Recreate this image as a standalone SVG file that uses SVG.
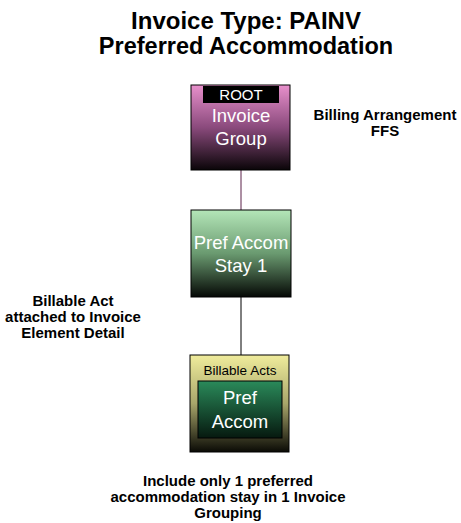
<svg xmlns="http://www.w3.org/2000/svg" width="461" height="523" viewBox="0 0 461 523">
<style>
.t{font-family:"Liberation Sans",Arial,sans-serif;font-weight:bold;fill:#000;text-anchor:middle}
.s{font-size:15px}
.n{font-family:"Liberation Sans",Arial,sans-serif;fill:#fff;text-anchor:middle}
.box{stroke:#000;stroke-width:1}
</style>
<defs>
<linearGradient id="gPink" x1="0" y1="0" x2="0" y2="1">
<stop offset="0" stop-color="#e890cc"/><stop offset="0.5" stop-color="#8a4a7c"/><stop offset="1" stop-color="#0a0508"/>
</linearGradient>
<linearGradient id="gGreen" x1="0" y1="0" x2="0" y2="1">
<stop offset="0" stop-color="#b4e6b8"/><stop offset="0.5" stop-color="#6a9a70"/><stop offset="1" stop-color="#050805"/>
</linearGradient>
<linearGradient id="gYellow" x1="0" y1="0" x2="0" y2="1">
<stop offset="0" stop-color="#f0ec9c"/><stop offset="0.5" stop-color="#a8a66a"/><stop offset="1" stop-color="#0a0a05"/>
</linearGradient>
<linearGradient id="gInner" x1="0" y1="0" x2="0" y2="1">
<stop offset="0" stop-color="#2a8a5a"/><stop offset="1" stop-color="#06190f"/>
</linearGradient>
</defs>
<text class="t" x="246" y="29" font-size="24">Invoice Type: PAINV</text>
<text class="t" x="246" y="54" font-size="23.5">Preferred Accommodation</text>
<g id="connectors">
<line x1="241" y1="170" x2="241" y2="210" stroke="#5a2048" stroke-width="1"/>
<line x1="241" y1="297" x2="241" y2="355" stroke="#000" stroke-width="1"/>
</g>
<g id="root">
<rect class="box" x="191" y="85" width="99" height="85" fill="url(#gPink)"/>
<rect x="203" y="86" width="76" height="17" fill="#000"/>
<text class="n" x="241" y="100" font-size="15">ROOT</text>
<text class="n" x="241" y="122" font-size="18.5">Invoice</text>
<text class="n" x="241" y="145" font-size="18.5">Group</text>
</g>
<g id="stay">
<rect class="box" x="191" y="210" width="100" height="87" fill="url(#gGreen)"/>
<text class="n" x="241" y="249" font-size="18.5">Pref Accom</text>
<text class="n" x="241" y="272" font-size="18.5">Stay 1</text>
</g>
<g id="acts">
<rect class="box" x="190" y="355" width="99" height="97" fill="url(#gYellow)"/>
<text x="240" y="375" font-size="13.5" font-family="Liberation Sans,Arial,sans-serif" text-anchor="middle" fill="#000">Billable Acts</text>
<rect class="box" x="198" y="381" width="84" height="57" fill="url(#gInner)"/>
<text class="n" x="240" y="404" font-size="18.5">Pref</text>
<text class="n" x="240" y="428" font-size="18.5">Accom</text>
</g>
<g id="notes">
<text class="t s" x="385" y="120">Billing Arrangement</text>
<text class="t s" x="385" y="136">FFS</text>
<text class="t s" x="73" y="306">Billable Act</text>
<text class="t s" x="73" y="322">attached to Invoice</text>
<text class="t s" x="73" y="338">Element Detail</text>
<text class="t s" x="228" y="486">Include only 1 preferred</text>
<text class="t s" x="228" y="502">accommodation stay in 1 Invoice</text>
<text class="t s" x="228" y="518">Grouping</text>
</g>
</svg>
